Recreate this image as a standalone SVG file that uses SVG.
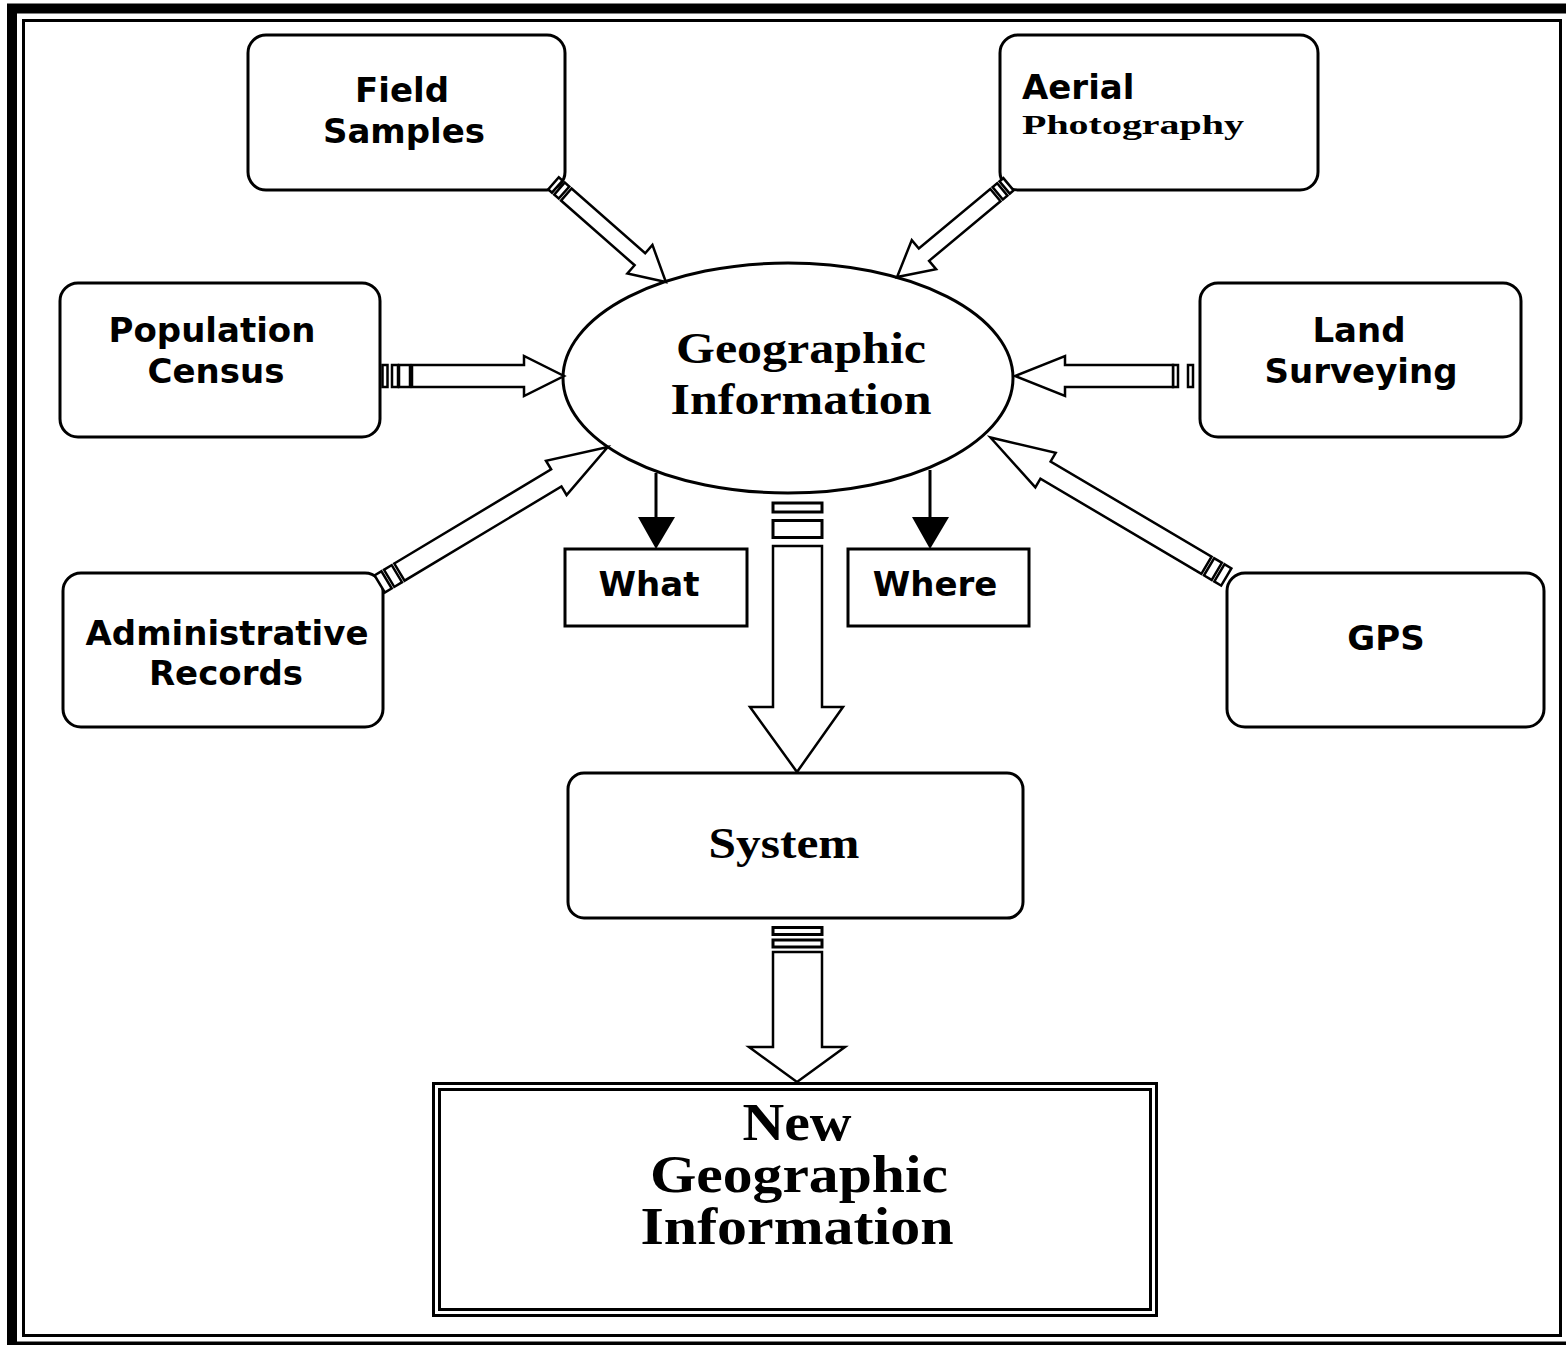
<svg xmlns="http://www.w3.org/2000/svg" width="1566" height="1345" viewBox="0 0 1566 1345">
  <style>
    .box { fill: #fff; stroke: #000; stroke-width: 3; }
    .sans { font-family: "DejaVu Sans", Verdana, sans-serif; font-weight: bold; font-size: 34px; fill: #000; }
    .serif { font-family: "Liberation Serif", "Times New Roman", serif; font-weight: bold; fill: #000; }
    .blk { fill: #fff; stroke: #000; stroke-width: 2.5; stroke-linejoin: miter; }
    .strip { fill: #fff; stroke: #000; stroke-width: 2.5; }
    .pin { stroke: #000; stroke-width: 3; fill: none; }
  </style>

  <rect width="1566" height="1345" fill="#fff"/>

  <!-- page frame: heavy outer rule plus thin inner rule -->
  <rect x="12" y="8.5" width="1560" height="1338" fill="none" stroke="#000" stroke-width="10"/>
  <rect x="23.5" y="20.5" width="1537" height="1315" fill="none" stroke="#000" stroke-width="3"/>

  <!-- sources -->
  <g id="field-samples">
    <rect class="box" x="248" y="35" width="317" height="155" rx="18"/>
    <text class="sans" x="402" y="102" text-anchor="middle">Field</text>
    <text class="sans" x="404" y="143" text-anchor="middle">Samples</text>
  </g>
  <g id="aerial-photography">
    <rect class="box" x="1000" y="35" width="318" height="155" rx="18"/>
    <text class="sans" x="1022" y="99" font-size="33">Aerial</text>
    <text class="serif" x="1022" y="134" font-size="27" textLength="222" lengthAdjust="spacingAndGlyphs">Photography</text>
  </g>
  <g id="population-census">
    <rect class="box" x="60" y="283" width="320" height="154" rx="18"/>
    <text class="sans" x="212" y="342" text-anchor="middle">Population</text>
    <text class="sans" x="216" y="383" text-anchor="middle">Census</text>
  </g>
  <g id="land-surveying">
    <rect class="box" x="1200" y="283" width="321" height="154" rx="18"/>
    <text class="sans" x="1359" y="342" text-anchor="middle">Land</text>
    <text class="sans" x="1361" y="383" text-anchor="middle">Surveying</text>
  </g>
  <g id="administrative-records">
    <rect class="box" x="63" y="573" width="320" height="154" rx="18"/>
    <text class="sans" x="227" y="645" text-anchor="middle">Administrative</text>
    <text class="sans" x="226" y="685" text-anchor="middle">Records</text>
  </g>
  <g id="gps">
    <rect class="box" x="1227" y="573" width="317" height="154" rx="18"/>
    <text class="sans" x="1386" y="650" text-anchor="middle">GPS</text>
  </g>

  <!-- hub -->
  <g id="geographic-information">
    <ellipse class="box" cx="788" cy="378" rx="225" ry="115" stroke-width="2.5"/>
    <text class="serif" x="801" y="363" font-size="44" text-anchor="middle" textLength="250" lengthAdjust="spacingAndGlyphs">Geographic</text>
    <text class="serif" x="801" y="414" font-size="44" text-anchor="middle" textLength="261" lengthAdjust="spacingAndGlyphs">Information</text>
  </g>
  <g id="what">
    <rect class="box" x="565" y="549" width="182" height="77"/>
    <text class="sans" x="649" y="596" text-anchor="middle">What</text>
  </g>
  <g id="where">
    <rect class="box" x="848" y="549" width="181" height="77"/>
    <text class="sans" x="935" y="596" text-anchor="middle">Where</text>
  </g>
  <g id="system">
    <rect class="box" x="568" y="773" width="455" height="145" rx="16"/>
    <text class="serif" x="784" y="858" font-size="44" text-anchor="middle" textLength="151" lengthAdjust="spacingAndGlyphs">System</text>
  </g>
  <g id="new-geographic-information">
    <rect x="433.5" y="1083.5" width="723" height="232" fill="#fff" stroke="#000" stroke-width="3"/>
    <rect x="439.5" y="1089.5" width="711" height="220" fill="none" stroke="#000" stroke-width="3"/>
    <text class="serif" x="797" y="1140" font-size="52" text-anchor="middle" textLength="109" lengthAdjust="spacingAndGlyphs">New</text>
    <text class="serif" x="799" y="1192" font-size="52" text-anchor="middle" textLength="298" lengthAdjust="spacingAndGlyphs">Geographic</text>
    <text class="serif" x="797" y="1244" font-size="52" text-anchor="middle" textLength="313" lengthAdjust="spacingAndGlyphs">Information</text>
  </g>

  <!-- connectors -->
  <g id="connectors">
    <!-- block arrows from each source: tail strips, hollow shaft, open head -->
    <g transform="translate(552 182) rotate(41.3)">
      <rect class="strip" x="2" y="-8" width="5" height="16"/>
      <rect class="strip" x="10" y="-8" width="6" height="16"/>
      <path class="blk" d="M19,-8 H117 V-19 L151.6,0 L117,19 V8 H19 Z"/>
    </g>
    <g transform="translate(1010 183) rotate(140.2)">
      <rect class="strip" x="2" y="-8" width="5" height="16"/>
      <rect class="strip" x="10" y="-8" width="6" height="16"/>
      <path class="blk" d="M19,-8 H112 V-19 L147,0 L112,19 V8 H19 Z"/>
    </g>
    <g transform="translate(380 376)">
      <rect class="strip" x="2.5" y="-11" width="5" height="22" fill="#000"/>
      <rect class="strip" x="12" y="-11" width="6" height="22"/>
      <rect class="strip" x="19" y="-11" width="11" height="22"/>
      <path class="blk" d="M32,-11 H144 V-20 L184,0 L144,20 V11 H32 Z"/>
    </g>
    <g transform="translate(1200 376) rotate(180)">
      <rect class="strip" x="7" y="-11" width="5" height="22" fill="#000" stroke-width="3"/>
      <rect class="strip" x="22" y="-11" width="5" height="22" fill="#000" stroke-width="3"/>
      <path class="blk" d="M27,-11 H135 V-20 L185,0 L135,20 V11 H27 Z"/>
    </g>
    <g transform="translate(378 585) rotate(-31)">
      <rect class="strip" x="2" y="-10" width="8" height="20"/>
      <rect class="strip" x="13" y="-10" width="9" height="20"/>
      <path class="blk" d="M25,-10 H208 V-20 L268,0 L208,20 V10 H25 Z"/>
    </g>
    <g transform="translate(1228 578) rotate(-149.4)">
      <rect class="strip" x="2" y="-10" width="8" height="20"/>
      <rect class="strip" x="13" y="-10" width="9" height="20"/>
      <path class="blk" d="M25,-10 H212 V-20 L276,0 L212,20 V10 H25 Z"/>
    </g>

    <!-- hub to System -->
    <rect x="773" y="503" width="49" height="9" fill="#fff" stroke="#000" stroke-width="3"/>
    <rect x="773" y="520.5" width="49" height="17" fill="#fff" stroke="#000" stroke-width="3"/>
    <path class="blk" stroke-width="3" d="M773,546 V707 H750 L797,772 L843,707 H822 V546 Z"/>

    <!-- System to result -->
    <rect x="773" y="927.5" width="49" height="7" fill="#fff" stroke="#000" stroke-width="3"/>
    <rect x="773" y="940" width="49" height="7" fill="#fff" stroke="#000" stroke-width="3"/>
    <path class="blk" stroke-width="3" d="M773,952 V1047 H749 L797,1082 L845,1047 H822 V952 Z"/>

    <!-- what / where pointers -->
    <line class="pin" x1="656" y1="473" x2="656" y2="520"/>
    <path d="M638,517 H675 L656,549 Z" fill="#000"/>
    <line class="pin" x1="930" y1="470" x2="930" y2="520"/>
    <path d="M912,517 H949 L930,549 Z" fill="#000"/>
  </g>
</svg>
